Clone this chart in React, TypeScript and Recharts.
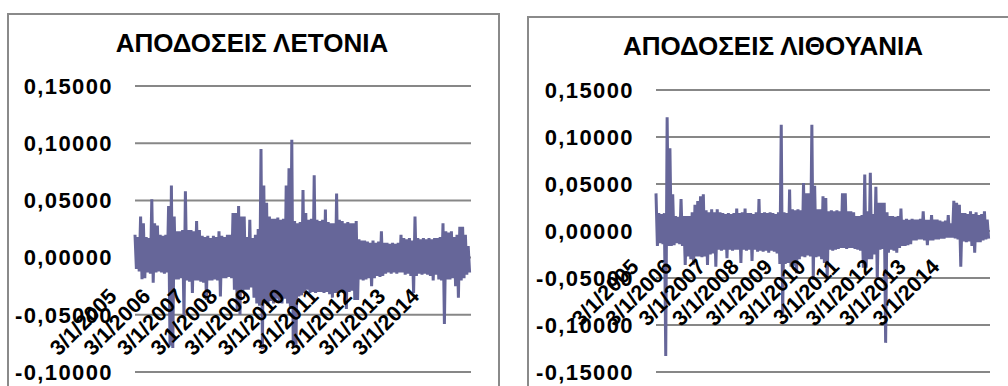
import React from 'react';
import { LineChart, Line, XAxis, YAxis, CartesianGrid } from 'recharts';

// Daily log-returns, condensed to 24 readings per calendar year (highs and lows of the band).
const YEARS = [2005, 2006, 2007, 2008, 2009, 2010, 2011, 2012, 2013, 2014];

const latviaByYear: number[][] = [
  [0.020, -0.010, 0.018, -0.012, 0.036, -0.019, 0.030, -0.018, 0.018, -0.013, 0.017, -0.014, 0.051, -0.022, 0.030, -0.013, 0.028, -0.012, 0.020, -0.013, 0.019, -0.014, 0.020, -0.013],
  [0.045, -0.077, 0.063, -0.079, 0.036, -0.019, 0.023, -0.019, 0.023, -0.018, 0.024, -0.053, 0.058, -0.020, 0.024, -0.021, 0.024, -0.031, 0.023, -0.020, 0.032, -0.020, 0.024, -0.021],
  [0.019, -0.022, 0.018, -0.037, 0.019, -0.020, 0.017, -0.020, 0.019, -0.019, 0.018, -0.020, 0.023, -0.034, 0.019, -0.018, 0.018, -0.018, 0.020, -0.017, 0.020, -0.018, 0.039, -0.028],
  [0.039, -0.045, 0.045, -0.050, 0.036, -0.030, 0.036, -0.028, 0.018, -0.028, 0.033, -0.026, 0.017, -0.035, 0.020, -0.040, 0.025, -0.042, 0.095, -0.080, 0.063, -0.040, 0.048, -0.042],
  [0.036, -0.038, 0.034, -0.040, 0.034, -0.036, 0.035, -0.038, 0.033, -0.040, 0.034, -0.036, 0.063, -0.040, 0.078, -0.045, 0.103, -0.077, 0.032, -0.078, 0.030, -0.034, 0.031, -0.033],
  [0.059, -0.031, 0.039, -0.028, 0.033, -0.031, 0.034, -0.030, 0.072, -0.031, 0.033, -0.030, 0.032, -0.030, 0.033, -0.031, 0.042, -0.030, 0.031, -0.032, 0.030, -0.035, 0.030, -0.031],
  [0.056, -0.031, 0.033, -0.030, 0.032, -0.031, 0.030, -0.045, 0.031, -0.030, 0.030, -0.029, 0.030, -0.037, 0.032, -0.037, 0.016, -0.019, 0.015, -0.020, 0.015, -0.019, 0.014, -0.018],
  [0.013, -0.025, 0.015, -0.018, 0.013, -0.016, 0.014, -0.017, 0.023, -0.016, 0.013, -0.014, 0.013, -0.013, 0.012, -0.014, 0.013, -0.013, 0.012, -0.014, 0.013, -0.013, 0.020, -0.013],
  [0.017, -0.015, 0.016, -0.014, 0.017, -0.016, 0.015, -0.031, 0.036, -0.016, 0.017, -0.014, 0.016, -0.015, 0.017, -0.014, 0.016, -0.015, 0.017, -0.016, 0.016, -0.020, 0.017, -0.015],
  [0.017, -0.019, 0.018, -0.020, 0.030, -0.058, 0.023, -0.019, 0.022, -0.019, 0.023, -0.018, 0.018, -0.025, 0.020, -0.035, 0.027, -0.020, 0.027, -0.018, 0.020, -0.015, 0.010, -0.013],
];

const lithuaniaByYear: number[][] = [
  [0.040, -0.016, 0.019, -0.013, 0.018, -0.014, 0.019, -0.133, 0.121, -0.016, 0.088, -0.016, 0.039, -0.015, 0.016, -0.013, 0.015, -0.014, 0.034, -0.016, 0.016, -0.036, 0.016, -0.027],
  [0.016, -0.030, 0.020, -0.036, 0.028, -0.027, 0.032, -0.027, 0.037, -0.028, 0.039, -0.027, 0.022, -0.036, 0.020, -0.025, 0.023, -0.024, 0.020, -0.038, 0.023, -0.020, 0.020, -0.021],
  [0.019, -0.020, 0.018, -0.029, 0.019, -0.020, 0.018, -0.021, 0.019, -0.020, 0.024, -0.020, 0.019, -0.034, 0.020, -0.020, 0.024, -0.021, 0.019, -0.020, 0.019, -0.032, 0.018, -0.020],
  [0.020, -0.022, 0.034, -0.021, 0.019, -0.022, 0.020, -0.021, 0.019, -0.023, 0.020, -0.021, 0.019, -0.022, 0.018, -0.024, 0.020, -0.035, 0.113, -0.091, 0.020, -0.035, 0.019, -0.034],
  [0.044, -0.038, 0.023, -0.037, 0.022, -0.045, 0.023, -0.030, 0.022, -0.027, 0.051, -0.028, 0.040, -0.026, 0.040, -0.027, 0.113, -0.052, 0.048, -0.028, 0.023, -0.027, 0.023, -0.030],
  [0.037, -0.034, 0.035, -0.052, 0.021, -0.020, 0.022, -0.021, 0.021, -0.020, 0.022, -0.019, 0.021, -0.018, 0.040, -0.018, 0.040, -0.019, 0.021, -0.018, 0.021, -0.018, 0.020, -0.019],
  [0.016, -0.020, 0.016, -0.021, 0.017, -0.039, 0.060, -0.039, 0.021, -0.030, 0.062, -0.030, 0.018, -0.025, 0.047, -0.052, 0.030, -0.020, 0.030, -0.019, 0.030, -0.119, 0.020, -0.023],
  [0.016, -0.020, 0.016, -0.021, 0.015, -0.023, 0.016, -0.018, 0.024, -0.016, 0.012, -0.016, 0.013, -0.015, 0.012, -0.014, 0.013, -0.010, 0.012, -0.010, 0.012, -0.009, 0.013, -0.009],
  [0.021, -0.010, 0.012, -0.015, 0.012, -0.010, 0.017, -0.010, 0.012, -0.009, 0.012, -0.009, 0.011, -0.008, 0.010, -0.008, 0.011, -0.007, 0.017, -0.007, 0.008, -0.007, 0.032, -0.008],
  [0.030, -0.009, 0.028, -0.038, 0.019, -0.011, 0.019, -0.012, 0.018, -0.011, 0.021, -0.016, 0.018, -0.023, 0.020, -0.012, 0.017, -0.012, 0.018, -0.010, 0.021, -0.009, 0.012, -0.008],
];

const latviaTicks = [-0.1, -0.05, 0, 0.05, 0.1, 0.15];
const lithuaniaTicks = [-0.15, -0.1, -0.05, 0, 0.05, 0.1, 0.15];

const LATVIA_TITLE = 'ΑΠΟΔΟΣΕΙΣ ΛΕΤΟΝΙΑ';
const LITHUANIA_TITLE = 'ΑΠΟΔΟΣΕΙΣ ΛΙΘΟΥΑΝΙΑ';

const W = 1008;
const H = 386;
const FONT = '"Liberation Sans", Arial, sans-serif';
const SERIES_COLOR = '#666699';
const GRID_COLOR = '#878787';
const FRAME_COLOR = '#8a8a8a';
const Y_AXIS_WIDTH = 110;
const X_AXIS_HEIGHT = 10;

type Point = { t: number; v: number };

function toSeries(rows: number[][]): Point[] {
  return rows.flatMap((row, k) => row.map((v, j) => ({ t: YEARS[k] + j / row.length, v })));
}

const formatValue = (v: number) => v.toFixed(5).replace('.', ',');
const formatYear = (y: number) => `3/1/${y}`;

type PanelProps = {
  data: Point[];
  ticks: number[];
  plot: { x0: number; x1: number; y0: number; y1: number };
  labelDx: number;
  labelDy: number;
};

function Panel({ data, ticks, plot, labelDx, labelDy }: PanelProps) {
  const yMin = ticks[0];
  const yMax = ticks[ticks.length - 1];
  // the category labels hang below the zero line, not the bottom of the plot
  const zeroY = plot.y0 + ((plot.y1 - plot.y0) * yMax) / (yMax - yMin);

  const renderDateTick = (props: any) => {
    const { x, payload } = props;
    const ax = x + labelDx;
    const ay = zeroY + labelDy;
    return (
      <text
        x={ax}
        y={ay}
        textAnchor="end"
        transform={`rotate(-45, ${ax}, ${ay})`}
        fontFamily={FONT}
        fontWeight="bold"
        fontSize={21.5}
        fill="#000"
      >
        {formatYear(payload.value)}
      </text>
    );
  };

  return (
    <div style={{ position: 'absolute', left: 0, top: 0 }}>
      <LineChart
        width={W}
        height={H}
        data={data}
        margin={{
          top: plot.y0,
          bottom: H - plot.y1 - X_AXIS_HEIGHT,
          left: plot.x0 - Y_AXIS_WIDTH,
          right: W - plot.x1,
        }}
      >
        <CartesianGrid vertical={false} stroke={GRID_COLOR} strokeWidth={2} />
        <YAxis
          type="number"
          domain={[yMin, yMax]}
          ticks={ticks}
          interval={0}
          width={Y_AXIS_WIDTH}
          axisLine={false}
          tickLine={false}
          tickSize={0}
          tickMargin={22}
          tickFormatter={formatValue}
          tick={{ fontFamily: FONT, fontWeight: 'bold', fontSize: 22, fill: '#000', letterSpacing: 1.4 }}
        />
        <Line
          type="linear"
          dataKey="v"
          stroke={SERIES_COLOR}
          strokeWidth={3}
          dot={false}
          isAnimationActive={false}
        />
        <XAxis
          type="number"
          dataKey="t"
          domain={[YEARS[0], YEARS[YEARS.length - 1] + 1]}
          ticks={YEARS}
          interval={0}
          height={X_AXIS_HEIGHT}
          axisLine={false}
          tickLine={false}
          tick={renderDateTick}
        />
      </LineChart>
    </div>
  );
}

const latviaData = toSeries(latviaByYear);
const lithuaniaData = toSeries(lithuaniaByYear);

export default function App() {
  return (
    <div style={{ position: 'absolute', left: 0, top: 0, width: W, height: H, overflow: 'hidden', background: '#fff' }}>
      <svg width={W} height={H} style={{ position: 'absolute', left: 0, top: 0 }}>
        <rect x={8} y={14} width={491} height={420} fill="none" stroke={FRAME_COLOR} strokeWidth={2} />
        <rect x={528} y={17} width={520} height={420} fill="none" stroke={FRAME_COLOR} strokeWidth={2} />
        <text x={252} y={52} textAnchor="middle" fontFamily={FONT} fontWeight="bold" fontSize={26}>
          {LATVIA_TITLE}
        </text>
        <text x={773} y={55} textAnchor="middle" fontFamily={FONT} fontWeight="bold" fontSize={26}>
          {LITHUANIA_TITLE}
        </text>
      </svg>
      <Panel data={latviaData} ticks={latviaTicks} plot={{ x0: 135, x1: 471, y0: 86, y1: 372 }} labelDx={-17} labelDy={40} />
      <Panel data={lithuaniaData} ticks={lithuaniaTicks} plot={{ x0: 656, x1: 990, y0: 90, y1: 372 }} labelDx={-16} labelDy={37} />
    </div>
  );
}
